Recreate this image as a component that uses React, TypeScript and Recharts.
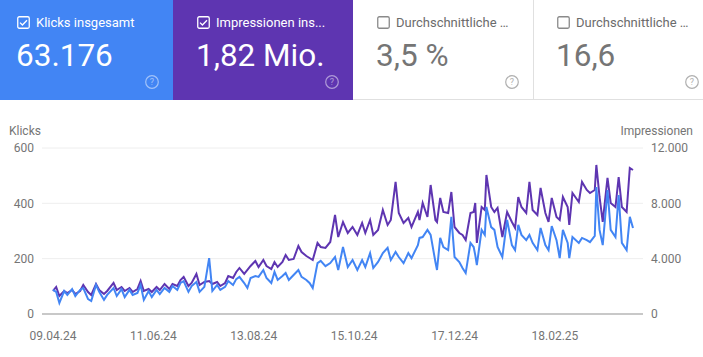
import { CartesianGrid, Line, LineChart, XAxis, YAxis } from "recharts";

// day offsets from 09.04.24, read at visible peaks and dips
const days = [
  0, 2, 4, 7, 9, 12, 14, 17, 19, 22, 24, 27, 29, 32, 34, 38, 40, 43, 45, 48, 50, 53, 55, 57, 60, 62, 65, 67, 70, 73,
  75, 78, 80, 82, 85, 87, 90, 92, 95, 98, 100, 103, 105, 108, 110, 113, 115, 117, 120,
  122, 124, 127, 129, 132, 134, 137, 139, 141, 144, 146, 148, 151, 154, 156, 159, 161, 163, 166, 168, 171, 174, 177,
  179, 182, 185, 188, 191, 194, 196, 199, 201, 204, 207, 210, 212, 215, 217, 220, 223, 225, 229, 230, 232, 235, 237,
  240, 241, 243,
  245, 248, 250, 252, 255, 257, 259, 262, 264, 265, 266, 269, 271, 272, 275, 277, 279, 282, 285, 288, 290, 292, 294,
  297, 299, 301, 304, 306, 309, 311, 313, 316, 318, 320, 323, 324, 326, 330, 332, 335, 337, 340, 341, 343, 345, 348,
  350, 353, 355, 357, 360, 362, 364,
];

const clicks = [
  87, 80, 40, 83, 69, 90, 65, 87, 94, 54, 47, 105, 80, 51, 69, 94, 65, 90, 61, 87, 69, 76, 105, 51, 83, 61, 87, 72, 94, 80,
  101, 87, 112, 119, 80, 101, 116, 80, 98, 202, 83, 105, 87, 98, 119, 105, 126, 134, 112,
  94, 130, 137, 134, 159, 130, 112, 152, 123, 137, 148, 123, 141, 159, 134, 123, 112, 94, 184, 192, 173, 184, 206,
  159, 242, 170, 195, 159, 195, 170, 220, 166, 188, 220, 239, 195, 224, 206, 184, 220, 202, 249, 275, 278, 304, 286,
  188, 159, 275,
  242, 231, 351, 206, 188, 166, 148, 257, 242, 213, 177, 304, 286, 387, 314, 304, 242, 206, 340, 249, 231, 322, 286,
  267, 286, 257, 231, 311, 249, 231, 318, 267, 202, 304, 257, 202, 278, 257, 275, 267, 260, 282, 459, 304, 249, 448,
  304, 278, 430, 257, 231, 351, 311,
];

const impressions = [
  1663, 1952, 1301, 1663, 1518, 1735, 1446, 1663, 2097, 1591, 1374, 2169, 1735, 1446, 1663, 2241, 1735, 1952, 1663, 1880,
  1591, 1808, 2386, 1663, 1808, 1591, 1952, 1735, 2169, 1808, 2169, 2024, 2458, 2675, 2024, 2241, 2892, 2097, 2314, 2386,
  2169, 2314, 2024, 2241, 2747, 2603, 3037, 3326, 2892,
  3181, 3470, 3832, 3398, 3904, 3470, 3254, 3760, 3398, 3760, 4266, 3904, 3977, 4916, 4483, 4193, 4049, 3904, 5133, 4844,
  4772, 5206, 7158, 5567, 6652, 5856, 6290, 5712, 6579, 5856, 6796, 5712, 6073, 7519, 6435, 6796, 9544, 7302, 6579, 6941,
  6290, 7375, 6796, 8025, 7013, 9327, 6796, 6652, 8387,
  7375, 7302, 8821, 6290, 5856, 5712, 5350, 7302, 7375, 8025, 5133, 7736, 7519, 10050, 7736, 7375, 7664, 5567, 7375, 6652,
  6218, 8459, 7736, 7302, 9544, 7519, 7158, 9110, 7302, 6652, 8387, 7013, 6796, 8459, 7736, 6435, 8748, 8098, 9544, 8965,
  8748, 8965, 10773, 8459, 6652, 9833, 8025, 7736, 9905, 7736, 7375, 10556, 10411,
];

const dateTicks = [0, 63, 126, 189, 252, 315];
const dateLabels = ["09.04.24", "11.06.24", "13.08.24", "15.10.24", "17.12.24", "18.02.25"];
const clickTicks = [0, 200, 400, 600];
const impressionTicks = [0, 4000, 8000, 12000];

const cardLabels = ["Klicks insgesamt", "Impressionen ins...", "Durchschnittliche …", "Durchschnittliche …"];
const cardValues = ["63.176", "1,82 Mio.", "3,5 %", "16,6"];
const cardColors = ["#4285f4", "#5e35b1", "", ""];

const chartData = days.map((day, i) => ({ day, clicks: clicks[i], impressions: impressions[i] }));

function formatThousands(value: number) {
  return String(value).replace(/\B(?=(\d{3})+(?!\d))/g, ".");
}

function Card({ index }: { index: number }) {
  const bg = cardColors[index];
  const active = bg !== "";
  const left = -7 + 180 * index;
  const fg = active ? "#ffffff" : "#757575";
  const shift = index === 3 ? 1 : 0;
  return (
    <div
      style={{
        position: "absolute",
        left,
        top: 0,
        width: 180,
        height: 100,
        boxSizing: "border-box",
        background: active ? bg : "#ffffff",
        borderBottom: active ? "none" : "1px solid #e0e0e0",
        borderLeft: index === 3 ? "1px solid #e0e0e0" : "none",
      }}
    >
      <svg width={13} height={13} style={{ position: "absolute", left: 24 - shift, top: 16 }}>
        <rect x={0.75} y={0.75} width={11.5} height={11.5} rx={1.5} fill="none" stroke={active ? "#ffffff" : "#8a8a8a"} strokeWidth={1.3} />
        {active && <polyline points="3,6.6 5.4,9 10,4.2" fill="none" stroke="#ffffff" strokeWidth={1.3} />}
      </svg>
      <div
        style={{
          position: "absolute",
          left: 43 - shift,
          top: 14.5,
          fontSize: 13,
          lineHeight: "16px",
          whiteSpace: "nowrap",
          color: active ? "#ffffff" : "#6b6b6b",
        }}
      >
        {cardLabels[index]}
      </div>
      <div
        style={{
          position: "absolute",
          left: 23 - shift,
          top: 37.5,
          fontSize: 31.5,
          lineHeight: "36px",
          whiteSpace: "nowrap",
          color: fg,
        }}
      >
        {cardValues[index]}
      </div>
      <svg width={16} height={16} style={{ position: "absolute", left: 151 - shift, top: 74 }}>
        <circle cx={8} cy={8} r={6.3} fill="none" stroke={active ? "rgba(255,255,255,0.5)" : "#b0b0b0"} strokeWidth={1.2} />
        <text x={8} y={11.2} textAnchor="middle" fontSize={9} fill={active ? "rgba(255,255,255,0.5)" : "#b0b0b0"}>
          ?
        </text>
      </svg>
    </div>
  );
}

export default function App() {
  return (
    <div
      style={{
        position: "absolute",
        left: 0,
        top: 0,
        width: 703,
        height: 357,
        overflow: "hidden",
        background: "#ffffff",
        fontFamily: "Roboto, sans-serif",
      }}
    >
      {[0, 1, 2, 3].map((i) => (
        <Card key={i} index={i} />
      ))}
      <div style={{ position: "absolute", left: 9, top: 124, fontSize: 12, lineHeight: "14px", color: "#757575" }}>Klicks</div>
      <div style={{ position: "absolute", right: 10, top: 124, fontSize: 12, lineHeight: "14px", color: "#757575" }}>
        Impressionen
      </div>
      <div style={{ position: "absolute", left: 0, top: 100 }}>
        <LineChart width={703} height={257} data={chartData} margin={{ top: 48, right: 0, bottom: 13, left: 0 }}>
          <CartesianGrid vertical={false} stroke="#eeeeee" yAxisId="left" />
          <XAxis
            dataKey="day"
            type="number"
            domain={[0, 364]}
            ticks={dateTicks}
            tickFormatter={(v: number) => dateLabels[dateTicks.indexOf(v)]}
            padding={{ left: 11, right: 10 }}
            height={30}
            tickLine={false}
            tickMargin={11}
            axisLine={{ stroke: "#c8c8c8", strokeWidth: 2 }}
            tick={{ fill: "#757575", fontSize: 12 }}
          />
          <YAxis
            yAxisId="left"
            width={42}
            domain={[0, 600]}
            ticks={clickTicks}
            axisLine={false}
            tickLine={false}
            tick={{ fill: "#757575", fontSize: 12 }}
          />
          <YAxis
            yAxisId="right"
            orientation="right"
            width={60}
            domain={[0, 12000]}
            ticks={impressionTicks}
            tickFormatter={formatThousands}
            axisLine={false}
            tickLine={false}
            tick={{ fill: "#757575", fontSize: 12 }}
          />
          <Line
            yAxisId="right"
            type="linear"
            dataKey="impressions"
            stroke="#5e35b1"
            strokeWidth={2}
            dot={false}
            isAnimationActive={false}
          />
          <Line
            yAxisId="left"
            type="linear"
            dataKey="clicks"
            stroke="#4285f4"
            strokeWidth={2}
            dot={false}
            isAnimationActive={false}
          />
        </LineChart>
      </div>
    </div>
  );
}
